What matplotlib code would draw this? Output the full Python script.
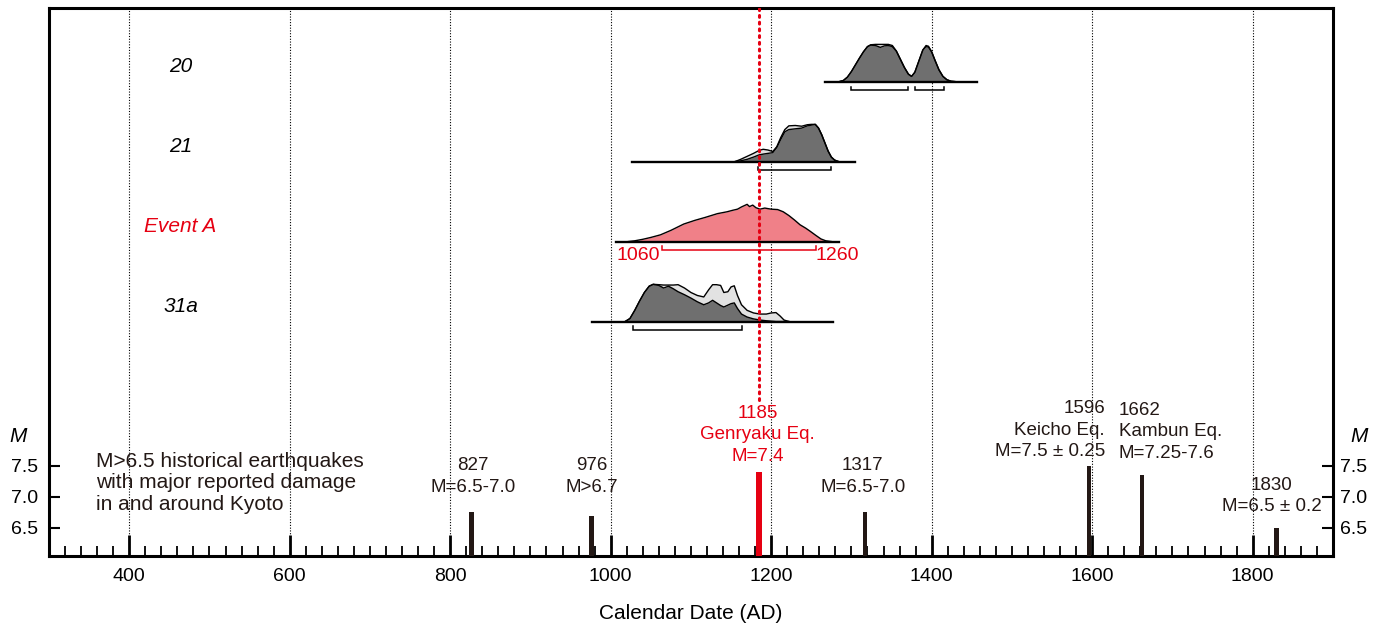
import numpy as np
import matplotlib
matplotlib.use("Agg")
import matplotlib.pyplot as plt

plt.rcParams['font.family'] = ['Liberation Sans', 'DejaVu Sans']

RED = '#e60012'
INK = '#231815'
DARK = '#6f6f6f'
LIGHT = '#e2e2e2'
PINK = '#f08088'

# historical earthquakes (year, magnitude)
eq_years = [827, 976, 1185, 1317, 1596, 1662, 1830]
eq_mags = [6.75, 6.7, 7.4, 6.75, 7.5, 7.35, 6.5]
eq_labels = ["827\nM=6.5-7.0", "976\nM>6.7", "1185\nGenryaku Eq.\nM=7.4",
             "1317\nM=6.5-7.0", "1596\nKeicho Eq.\nM=7.5 \u00b1 0.25",
             "1662\nKambun Eq.\nM=7.25-7.6", "1830\nM=6.5 \u00b1 0.2"]

# probability distributions (calendar year, relative density)
p20_yr = [1285, 1290, 1295, 1300, 1305, 1310, 1315, 1320, 1324, 1330, 1336, 1341, 1346, 1351,
          1356, 1361, 1366, 1371, 1375, 1379, 1384, 1389, 1393, 1396, 1400, 1404, 1409, 1414,
          1419, 1424, 1429]
p20_lt = [0, 0.03, 0.12, 0.27, 0.45, 0.63, 0.8, 0.94, 0.99, 1.0, 1.0, 1.0, 1.0, 0.97,
          0.82, 0.6, 0.38, 0.2, 0.14, 0.25, 0.55, 0.85, 0.97, 0.95, 0.8, 0.58, 0.32, 0.14,
          0.05, 0.01, 0]
p20_dk = [0, 0.03, 0.12, 0.27, 0.45, 0.63, 0.8, 0.94, 0.98, 0.97, 0.92, 0.96, 0.97, 0.94,
          0.82, 0.6, 0.38, 0.2, 0.14, 0.25, 0.55, 0.85, 0.94, 0.93, 0.8, 0.58, 0.32, 0.14,
          0.05, 0.01, 0]

p21_yr = [1155, 1162, 1170, 1178, 1185, 1190, 1196, 1202, 1207, 1212, 1217, 1222, 1230,
          1238, 1245, 1250, 1255, 1259, 1263, 1267, 1271, 1275, 1279, 1284]
p21_lt = [0, 0.06, 0.14, 0.22, 0.3, 0.33, 0.31, 0.27, 0.4, 0.65, 0.86, 0.96, 0.97,
          0.95, 0.99, 1.0, 1.0, 0.9, 0.72, 0.5, 0.28, 0.12, 0.04, 0]
p21_dk = [0, 0.02, 0.06, 0.12, 0.18, 0.2, 0.22, 0.24, 0.38, 0.6, 0.8, 0.86, 0.88,
          0.9, 0.96, 0.98, 1.0, 0.9, 0.72, 0.5, 0.28, 0.12, 0.04, 0]

pA_yr = [1022, 1030, 1040, 1050, 1062, 1075, 1091, 1105, 1118, 1133, 1145, 1152, 1158, 1163,
         1167, 1170, 1173, 1177, 1181, 1186, 1192, 1200, 1208, 1215, 1222, 1229, 1236, 1243,
         1249, 1256, 1262, 1268, 1275]
pA_rel = [0, 0.02, 0.06, 0.11, 0.18, 0.3, 0.47, 0.57, 0.65, 0.75, 0.8, 0.84, 0.87, 0.93,
          0.97, 1.0, 0.94, 0.98, 0.91, 0.87, 0.9, 0.87, 0.86, 0.8, 0.7, 0.58, 0.45, 0.36,
          0.27, 0.16, 0.07, 0.02, 0]

p31_yr = [1018, 1024, 1030, 1036, 1042, 1048, 1053, 1060, 1066, 1072, 1078, 1084, 1092,
          1100, 1108, 1116, 1122, 1127, 1132, 1137, 1141, 1146, 1150, 1154, 1158, 1163,
          1170, 1178, 1186, 1194, 1200, 1206, 1211, 1216, 1222]
p31_lt = [0, 0.08, 0.3, 0.55, 0.78, 0.95, 1.0, 0.99, 0.98, 0.98, 0.98, 0.99, 0.9,
          0.78, 0.7, 0.66, 0.85, 0.99, 0.99, 0.97, 0.78, 0.8, 0.93, 0.96, 0.7, 0.45,
          0.3, 0.23, 0.2, 0.2, 0.23, 0.24, 0.15, 0.04, 0]
p31_dk = [0, 0.08, 0.3, 0.55, 0.78, 0.95, 1.0, 0.97, 0.9, 0.95, 0.88, 0.8, 0.72,
          0.63, 0.53, 0.45, 0.5, 0.57, 0.5, 0.43, 0.39, 0.44, 0.48, 0.5, 0.35, 0.2,
          0.12, 0.07, 0.04, 0.02, 0.01, 0, 0, 0, 0]

# 95% ranges under each distribution
r20 = [(1300, 1371), (1379, 1415)]
r21 = [(1184, 1274)]
rA = [(1064, 1256)]
r31 = [(1028, 1164)]

row_names = ["20", "21", "Event A", "31a"]
row_base = [13.70, 12.41, 11.12, 9.83]
row_span = [(1267, 1456), (1027, 1305), (1006, 1285), (977, 1277)]

PEAK = 0.6
Y0, Y1 = 6.048, 14.887

fig = plt.figure(figsize=(13.87, 6.30), dpi=100)
ax = fig.add_axes([0.0353, 0.1175, 0.9257, 0.8698])
ax.set_xlim(300, 1900)
ax.set_ylim(Y0, Y1)

# grid
for g in range(400, 1900, 200):
    ax.axvline(g, color='k', lw=0.8, ls=(0, (1, 1.5)), zorder=1)


def draw_pdf(base, yrs, rel, color):
    yrs = np.asarray(yrs)
    top = base + np.asarray(rel) * PEAK
    ax.fill_between(yrs, base, top, color=color, lw=0, zorder=3)
    ax.plot(yrs, top, color='k', lw=1.0, zorder=4)


def draw_ranges(base, ranges, color='k'):
    yb = base - 0.135
    for a, b in ranges:
        ax.plot([a, a, b, b], [yb + 0.055, yb, yb, yb + 0.055], color=color, lw=1.1,
                zorder=4, solid_joinstyle='miter')


# 20
draw_pdf(row_base[0], p20_yr, p20_lt, LIGHT)
draw_pdf(row_base[0], p20_yr, p20_dk, DARK)
draw_ranges(row_base[0], r20)
# 21
draw_pdf(row_base[1], p21_yr, p21_lt, LIGHT)
draw_pdf(row_base[1], p21_yr, p21_dk, DARK)
draw_ranges(row_base[1], r21)
# Event A
draw_pdf(row_base[2], pA_yr, pA_rel, PINK)
draw_ranges(row_base[2], rA, RED)
# 31a
draw_pdf(row_base[3], p31_yr, p31_lt, LIGHT)
draw_pdf(row_base[3], p31_yr, p31_dk, DARK)
draw_ranges(row_base[3], r31)

for (x0, x1), b in zip(row_span, row_base):
    ax.plot([x0, x1], [b, b], color='k', lw=1.7, zorder=5)

for name, b in zip(row_names, row_base):
    ax.text(464, b + 0.25, name, ha='center', va='center', fontsize=15, style='italic',
            color=RED if name == "Event A" else 'k')

ax.text(1061, 10.90, "1060", ha='right', va='center', fontsize=14, color=RED)
ax.text(1255, 10.90, "1260", ha='left', va='center', fontsize=14, color=RED)

# red dotted line for 1185
ax.plot([1185, 1185], [8.565, Y1], color=RED, lw=2.2, ls=(0, (0.6, 1.6)),
        dash_capstyle='round', zorder=6)

# earthquake bars
bar_colors = [RED if y == 1185 else INK for y in eq_years]
bar_w = [7.5 if y == 1185 else 6 for y in eq_years]
ax.bar(eq_years, np.array(eq_mags) - Y0, bottom=Y0, width=bar_w, color=bar_colors, zorder=5)

lab_pos = [(828, 7.33, 'center'), (977, 7.33, 'center'), (1183, 8.0, 'center'),
           (1314, 7.33, 'center'), (1616, 8.08, 'right'), (1633, 8.05, 'left'),
           (1824, 7.02, 'center')]
for txt, (x, y, ha), c in zip(eq_labels, lab_pos, bar_colors):
    ax.text(x, y, txt, ha=ha, va='center', fontsize=13.5, color=c, linespacing=1.32,
            multialignment=ha)

ax.text(359, 7.226, "M>6.5 historical earthquakes\nwith major reported damage\nin and around Kyoto",
        ha='left', va='center', fontsize=15, linespacing=1.17, color=INK)

ax.text(262, 7.98, "M", ha='center', va='center', fontsize=15, style='italic')
ax.text(1932, 7.98, "M", ha='center', va='center', fontsize=15, style='italic')

# axes styling
for s in ax.spines.values():
    s.set_linewidth(2.2)
ax.set_xticks(range(400, 1900, 200))
ax.set_xticks(range(320, 1900, 20), minor=True)
ax.tick_params(axis='x', which='major', direction='in', length=15, width=2, labelsize=14, pad=9)
ax.tick_params(axis='x', which='minor', direction='in', length=7, width=1.3)
ax.set_yticks([6.5, 7.0, 7.5])
ax.set_yticklabels(["6.5", "7.0", "7.5"])
ax.tick_params(axis='y', direction='in', length=8, width=1.5, labelsize=14, pad=8)
ax2 = ax.twinx()
ax2.set_ylim(Y0, Y1)
ax2.set_yticks([6.5, 7.0, 7.5])
ax2.set_yticklabels(["6.5", "7.0", "7.5"])
ax2.tick_params(axis='y', direction='in', length=8, width=1.5, labelsize=14, pad=5)
for s in ax2.spines.values():
    s.set_visible(False)

ax.set_xlabel("Calendar Date (AD)", fontsize=15, labelpad=13)

fig.savefig("out.png", dpi=100)
